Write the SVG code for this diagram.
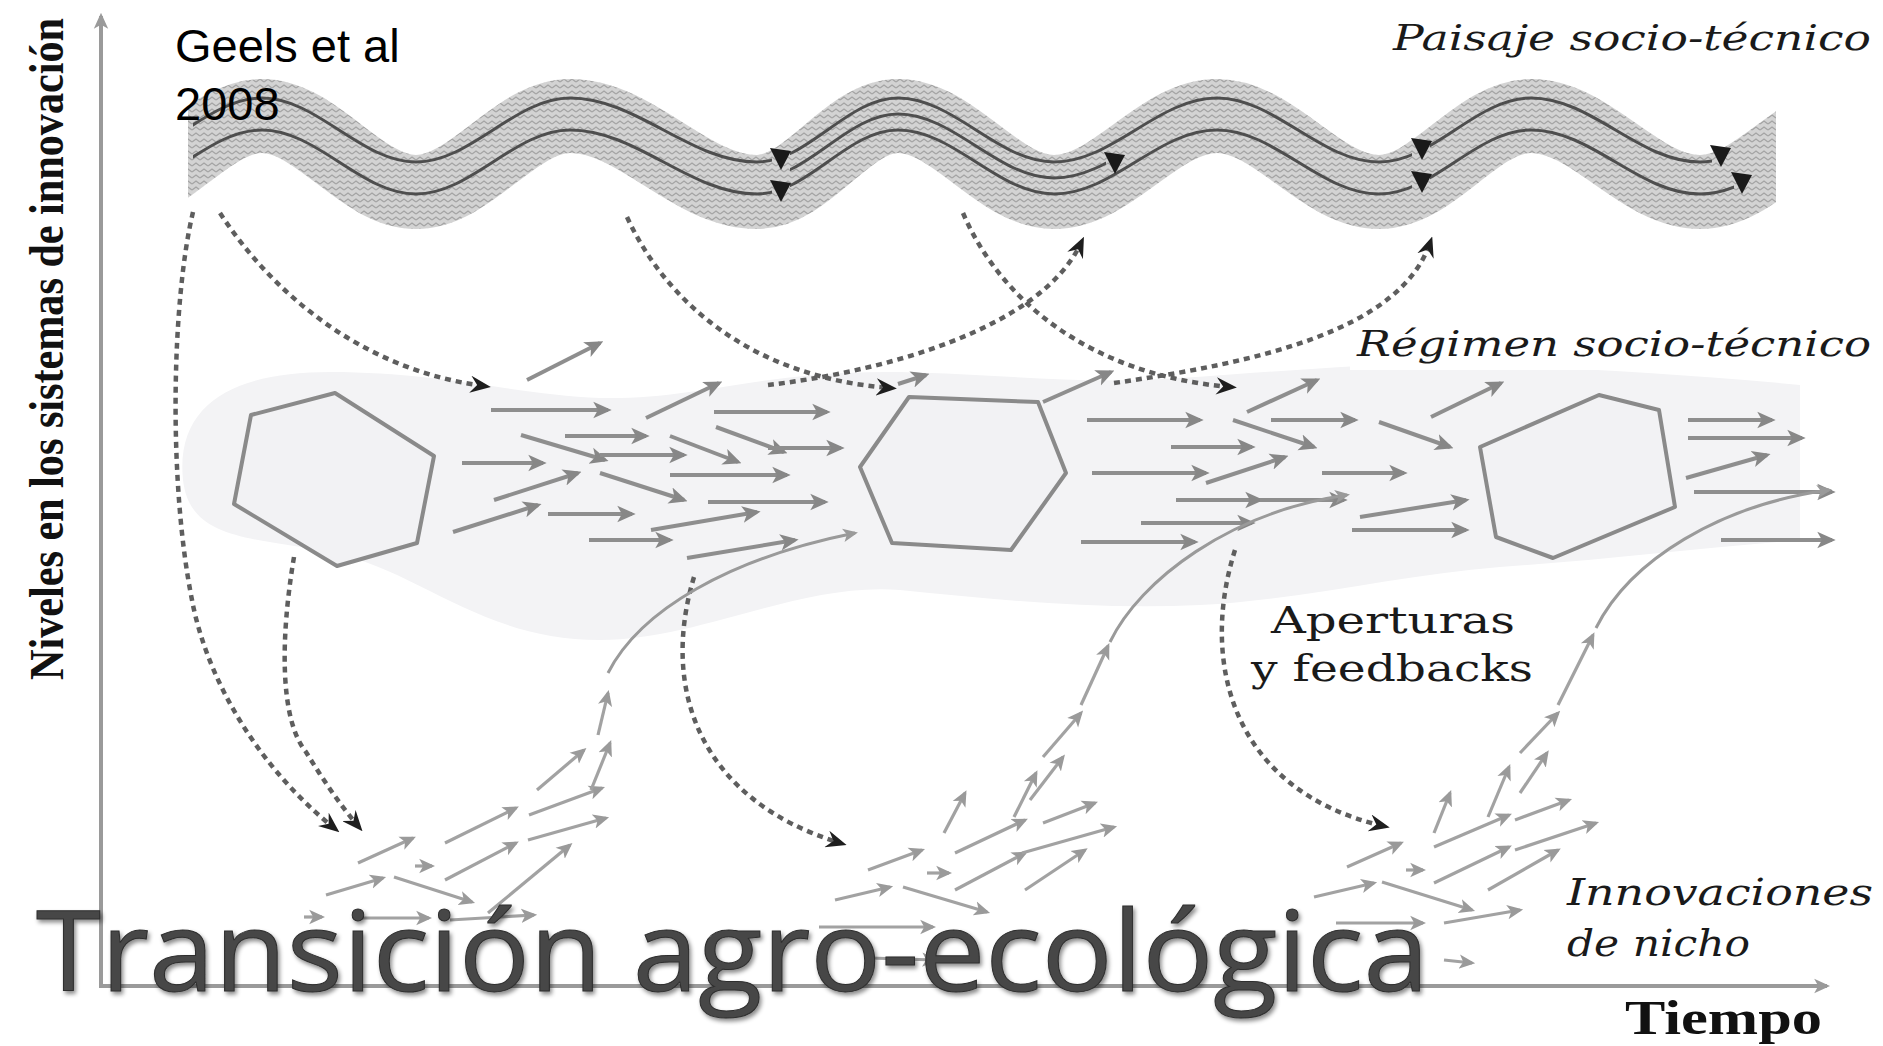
<svg xmlns="http://www.w3.org/2000/svg" width="1883" height="1046" viewBox="0 0 1883 1046">
<style>
.dot{fill:none;stroke:#5e5e5e;stroke-width:4.5;stroke-dasharray:6 5;marker-end:url(#dh)}
.ra{fill:none;stroke:#8e8e8e;stroke-width:4;marker-end:url(#ga)}
.na{fill:none;stroke:#a2a2a2;stroke-width:3.2;marker-end:url(#na)}
.lc{fill:none;stroke:#9a9a9a;stroke-width:3;marker-end:url(#na)}
.wl{fill:none;stroke:#4e4e4e;stroke-width:3}
.tri{fill:#1a1a1a}
.hex{fill:#f2f2f4;stroke:#8a8a8a;stroke-width:4;stroke-linejoin:round}
.lab{fill:#1a1a1a;font-family:"DejaVu Serif","Liberation Serif",serif}
</style>
<defs>
<pattern id="hatch" width="8" height="6" patternUnits="userSpaceOnUse">
<rect width="8" height="6" fill="#d3d3d3"/>
<path d="M0,4 L4,1 L8,4" fill="none" stroke="#a4a4a4" stroke-width="1.4"/>
</pattern>
<marker id="dh" viewBox="0 0 12 10" refX="8" refY="5" markerWidth="4.6" markerHeight="3.9" orient="auto"><path d="M0,0 L12,5 L0,10 L4,5 z" fill="#1e1e1e"/></marker>
<marker id="ga" viewBox="0 0 10 10" refX="8" refY="5" markerWidth="4.6" markerHeight="4.6" orient="auto"><path d="M0,0.5 L10,5 L0,9.5 L2.5,5 z" fill="#878787"/></marker>
<marker id="na" viewBox="0 0 10 10" refX="8" refY="5" markerWidth="5" markerHeight="5" orient="auto"><path d="M0,0.5 L10,5 L0,9.5 L2.5,5 z" fill="#9a9a9a"/></marker>
<marker id="ax" viewBox="0 0 10 10" refX="8" refY="5" markerWidth="4" markerHeight="4" orient="auto"><path d="M0,0.5 L10,5 L0,9.5 L2.5,5 z" fill="#9a9a9a"/></marker>
<clipPath id="bandClip"><rect x="188" y="0" width="1588" height="320"/></clipPath>
<clipPath id="cUp"><rect x="193" y="0" width="579" height="320"/><rect x="790" y="0" width="622" height="320"/><rect x="1430" y="0" width="282" height="320"/></clipPath>
<clipPath id="cLo"><rect x="193" y="0" width="579" height="320"/><rect x="790" y="0" width="622" height="320"/><rect x="1430" y="0" width="304" height="320"/></clipPath>
<clipPath id="cMid"><rect x="790" y="0" width="316" height="320"/></clipPath>
<filter id="soft" x="-5%" y="-5%" width="110%" height="110%"><feGaussianBlur stdDeviation="0.7"/></filter>
<filter id="shadow" x="-5%" y="-20%" width="110%" height="140%"><feDropShadow dx="2" dy="3" stdDeviation="2" flood-color="#000" flood-opacity="0.45"/></filter>
</defs>
<rect width="1883" height="1046" fill="#ffffff"/>

<g id="regime-blob">
<path d="M183,480 C175,400 240,372 330,372 C440,372 520,395 600,398 C700,400 760,370 900,372 C1000,374 1080,385 1180,378 C1300,370 1400,360 1500,365 C1600,370 1700,375 1800,385 L1800,540 C1700,548 1600,560 1500,567 C1400,575 1300,600 1200,605 C1100,610 1000,600 900,590 C800,582 700,640 600,640 C480,640 420,570 330,552 C250,537 190,540 183,480 Z" fill="#f3f3f5"/>
<rect x="1350" y="318" width="533" height="52" fill="#ffffff"/>
</g>

<g id="landscape">
<g clip-path="url(#bandClip)">
<path d="M108,192 C163,192 207,116 262,116 C317,116 361,192 416,192 C471,192 515,116 570,116 C637,116 690,192 757,192 C808,192 847,116 898,116 C954,116 998,192 1054,192 C1113,192 1158,116 1217,116 C1275,116 1321,192 1379,192 C1434,192 1476,116 1531,116 C1592,116 1639,192 1700,192 C1758,192 1802,116 1860,116" fill="none" stroke="url(#hatch)" stroke-width="74"/>
</g>
<path class="wl" clip-path="url(#cUp)" d="M108,162 C163,162 207,98 262,98 C317,98 361,162 416,162 C471,162 515,98 570,98 C637,98 690,162 757,162 C808,162 847,98 898,98 C954,98 998,162 1054,162 C1113,162 1158,98 1217,98 C1275,98 1321,162 1379,162 C1434,162 1476,98 1531,98 C1592,98 1639,162 1700,162 C1758,162 1802,98 1860,98"/>
<path class="wl" clip-path="url(#cLo)" d="M108,194 C163,194 207,130 262,130 C317,130 361,194 416,194 C471,194 515,130 570,130 C637,130 690,194 757,194 C808,194 847,130 898,130 C954,130 998,194 1054,194 C1113,194 1158,130 1217,130 C1275,130 1321,194 1379,194 C1434,194 1476,130 1531,130 C1592,130 1639,194 1700,194 C1758,194 1802,130 1860,130"/>
<path class="wl" clip-path="url(#cMid)" d="M757,178 C808,178 847,114 898,114 C954,114 998,178 1054,178 C1113,178 1158,114 1217,114"/>
<polygon class="tri" points="770,148 791,151 781,170"/>
<polygon class="tri" points="770,180 791,183 781,202"/>
<polygon class="tri" points="1104,152 1125,155 1115,174"/>
<polygon class="tri" points="1411,138 1432,141 1422,160"/>
<polygon class="tri" points="1411,171 1432,174 1422,193"/>
<polygon class="tri" points="1710,145 1731,148 1721,167"/>
<polygon class="tri" points="1731,172 1752,175 1742,194"/>
</g>

<g id="hex1"><polygon class="hex" points="335,393 434,456 417,543 337,566 234,504 251,415"/></g>
<g id="hex2"><polygon class="hex" points="909,397 1038,402 1066,473 1011,550 892,543 860,467"/></g>
<g id="hex3"><polygon class="hex" points="1599,395 1659,410 1675,507 1553,558 1496,537 1480,447"/></g>

<g id="axes">
<line x1="101" y1="986" x2="101" y2="16" stroke="#9a9a9a" stroke-width="4" marker-end="url(#ax)"/>
<line x1="99" y1="986" x2="1827" y2="986" stroke="#9a9a9a" stroke-width="4" marker-end="url(#ax)"/>
</g>

<g id="connectors">
<g id="dotted">
<path class="dot" d="M193,212 C172,300 168,480 192,600 C205,670 250,760 334,828"/>
<path class="dot" d="M294,557 C280,640 280,720 306,752 C322,778 340,805 358,826"/>
<path class="dot" d="M220,213 C270,290 360,370 484,386"/>
<path class="dot" d="M627,217 C670,310 760,378 890,388"/>
<path class="dot" d="M768,385 C880,372 1040,330 1081,243"/>
<path class="dot" d="M963,213 C1000,300 1090,375 1230,387"/>
<path class="dot" d="M1114,383 C1260,362 1400,330 1430,243"/>
<path class="dot" d="M694,577 C660,690 700,800 840,843"/>
<path class="dot" d="M1235,550 C1200,660 1230,790 1383,826"/>
</g>
<g id="regime-arrows">
<path class="ra" d="M527,380 L600,343"/>
<path class="ra" d="M491,410 L608,410"/>
<path class="ra" d="M646,418 L719,383"/>
<path class="ra" d="M714,412 L827,412"/>
<path class="ra" d="M565,436 L646,436"/>
<path class="ra" d="M521,435 L605,460"/>
<path class="ra" d="M600,455 L684,455"/>
<path class="ra" d="M670,436 L738,462"/>
<path class="ra" d="M716,427 L784,452"/>
<path class="ra" d="M768,448 L841,448"/>
<path class="ra" d="M462,463 L543,463"/>
<path class="ra" d="M494,500 L578,473"/>
<path class="ra" d="M670,475 L787,475"/>
<path class="ra" d="M600,473 L684,500"/>
<path class="ra" d="M708,502 L825,502"/>
<path class="ra" d="M453,532 L538,505"/>
<path class="ra" d="M548,514 L632,514"/>
<path class="ra" d="M651,530 L757,512"/>
<path class="ra" d="M589,540 L670,540"/>
<path class="ra" d="M687,558 L795,540"/>
<path class="ra" d="M898,384 L926,375"/>
<path class="ra" d="M1043,402 L1111,372"/>
<path class="ra" d="M1087,420 L1200,420"/>
<path class="ra" d="M1247,412 L1317,380"/>
<path class="ra" d="M1271,420 L1355,420"/>
<path class="ra" d="M1431,417 L1501,383"/>
<path class="ra" d="M1233,420 L1314,447"/>
<path class="ra" d="M1171,447 L1252,447"/>
<path class="ra" d="M1379,422 L1450,447"/>
<path class="ra" d="M1092,473 L1206,473"/>
<path class="ra" d="M1206,483 L1285,457"/>
<path class="ra" d="M1322,473 L1404,473"/>
<path class="ra" d="M1176,500 L1260,500"/>
<path class="ra" d="M1260,500 L1344,500"/>
<path class="ra" d="M1141,523 L1252,523"/>
<path class="ra" d="M1081,542 L1195,542"/>
<path class="ra" d="M1360,517 L1466,500"/>
<path class="ra" d="M1352,530 L1466,530"/>
<path class="ra" d="M1688,420 L1772,420"/>
<path class="ra" d="M1688,438 L1802,438"/>
<path class="ra" d="M1686,478 L1767,455"/>
<path class="ra" d="M1694,492 L1832,492"/>
<path class="ra" d="M1721,540 L1832,540"/>
</g>
<g id="niche-arrows" filter="url(#soft)">
<path class="lc" d="M608,673 C640,610 730,558 855,533"/>
<path class="lc" d="M1110,642 C1140,580 1230,512 1347,495"/>
<path class="lc" d="M1596,628 C1630,560 1720,505 1829,490"/>
<path class="na" d="M358,863 L413,838"/>
<path class="na" d="M445,843 L516,808"/>
<path class="na" d="M326,895 L383,878"/>
<path class="na" d="M415,866 L432,866"/>
<path class="na" d="M445,880 L516,843"/>
<path class="na" d="M529,815 L602,788"/>
<path class="na" d="M528,840 L606,818"/>
<path class="na" d="M394,877 L472,902"/>
<path class="na" d="M488,913 L570,845"/>
<path class="na" d="M537,790 L584,750"/>
<path class="na" d="M591,790 L610,743"/>
<path class="na" d="M598,735 L608,693"/>
<path class="na" d="M304,917 L322,917"/>
<path class="na" d="M358,918 L429,918"/>
<path class="na" d="M450,920 L534,915"/>
<path class="na" d="M868,870 L922,850"/>
<path class="na" d="M835,900 L890,887"/>
<path class="na" d="M927,873 L949,873"/>
<path class="na" d="M903,887 L987,912"/>
<path class="na" d="M955,853 L1025,820"/>
<path class="na" d="M955,890 L1025,853"/>
<path class="na" d="M944,833 L965,793"/>
<path class="na" d="M1014,817 L1036,773"/>
<path class="na" d="M1030,800 L1063,757"/>
<path class="na" d="M1025,890 L1085,850"/>
<path class="na" d="M819,927 L933,927"/>
<path class="na" d="M1043,823 L1095,803"/>
<path class="na" d="M1022,853 L1114,827"/>
<path class="na" d="M1043,757 L1081,713"/>
<path class="na" d="M1081,705 L1108,646"/>
<path class="na" d="M870,958 L935,960"/>
<path class="na" d="M1347,867 L1401,843"/>
<path class="na" d="M1314,897 L1374,883"/>
<path class="na" d="M1406,870 L1423,870"/>
<path class="na" d="M1382,882 L1472,910"/>
<path class="na" d="M1434,847 L1509,815"/>
<path class="na" d="M1434,883 L1509,847"/>
<path class="na" d="M1434,833 L1450,793"/>
<path class="na" d="M1488,817 L1509,767"/>
<path class="na" d="M1520,793 L1547,753"/>
<path class="na" d="M1515,820 L1569,800"/>
<path class="na" d="M1515,850 L1596,823"/>
<path class="na" d="M1488,890 L1558,850"/>
<path class="na" d="M1444,923 L1520,910"/>
<path class="na" d="M1336,923 L1423,923"/>
<path class="na" d="M1444,960 L1472,963"/>
<path class="na" d="M1520,753 L1558,713"/>
<path class="na" d="M1558,705 L1593,635"/>
</g>
</g>

<g id="labels">
<text x="175" y="62" font-family="'Liberation Sans',Arial,sans-serif" font-size="47" fill="#000">Geels et al</text>
<text x="175" y="120" font-family="'Liberation Sans',Arial,sans-serif" font-size="47" fill="#000">2008</text>
<text class="lab" x="1393" y="50" font-size="36" font-style="italic" textLength="478" lengthAdjust="spacingAndGlyphs">Paisaje socio-técnico</text>
<text class="lab" x="1357" y="356" font-size="36" font-style="italic" textLength="514" lengthAdjust="spacingAndGlyphs">Régimen socio-técnico</text>
<text class="lab" x="1393" y="633" font-size="38" text-anchor="middle" textLength="244" lengthAdjust="spacingAndGlyphs">Aperturas</text>
<text class="lab" x="1392" y="681" font-size="38" text-anchor="middle" textLength="282" lengthAdjust="spacingAndGlyphs">y feedbacks</text>
<text class="lab" x="1567" y="905" font-size="38" font-style="italic" textLength="306" lengthAdjust="spacingAndGlyphs">Innovaciones</text>
<text class="lab" x="1567" y="956" font-size="38" font-style="italic" textLength="183" lengthAdjust="spacingAndGlyphs">de nicho</text>
<text x="1625" y="1034" font-family="'Liberation Serif','Times New Roman',serif" font-size="48" font-weight="bold" fill="#111" textLength="197" lengthAdjust="spacingAndGlyphs">Tiempo</text>
<text transform="translate(63,680) rotate(-90)" x="0" y="0" font-family="'Liberation Serif','Times New Roman',serif" font-size="48" font-weight="bold" fill="#111" textLength="662" lengthAdjust="spacingAndGlyphs">Niveles en los sistemas de innovación</text>
<text x="36" y="991" font-family="'Open Sans','Noto Sans',sans-serif" font-size="112" fill="#474747" stroke="#2e2e2e" stroke-width="1" filter="url(#shadow)" textLength="1393" lengthAdjust="spacingAndGlyphs">Transición agro-ecológica</text>
</g>
</svg>
